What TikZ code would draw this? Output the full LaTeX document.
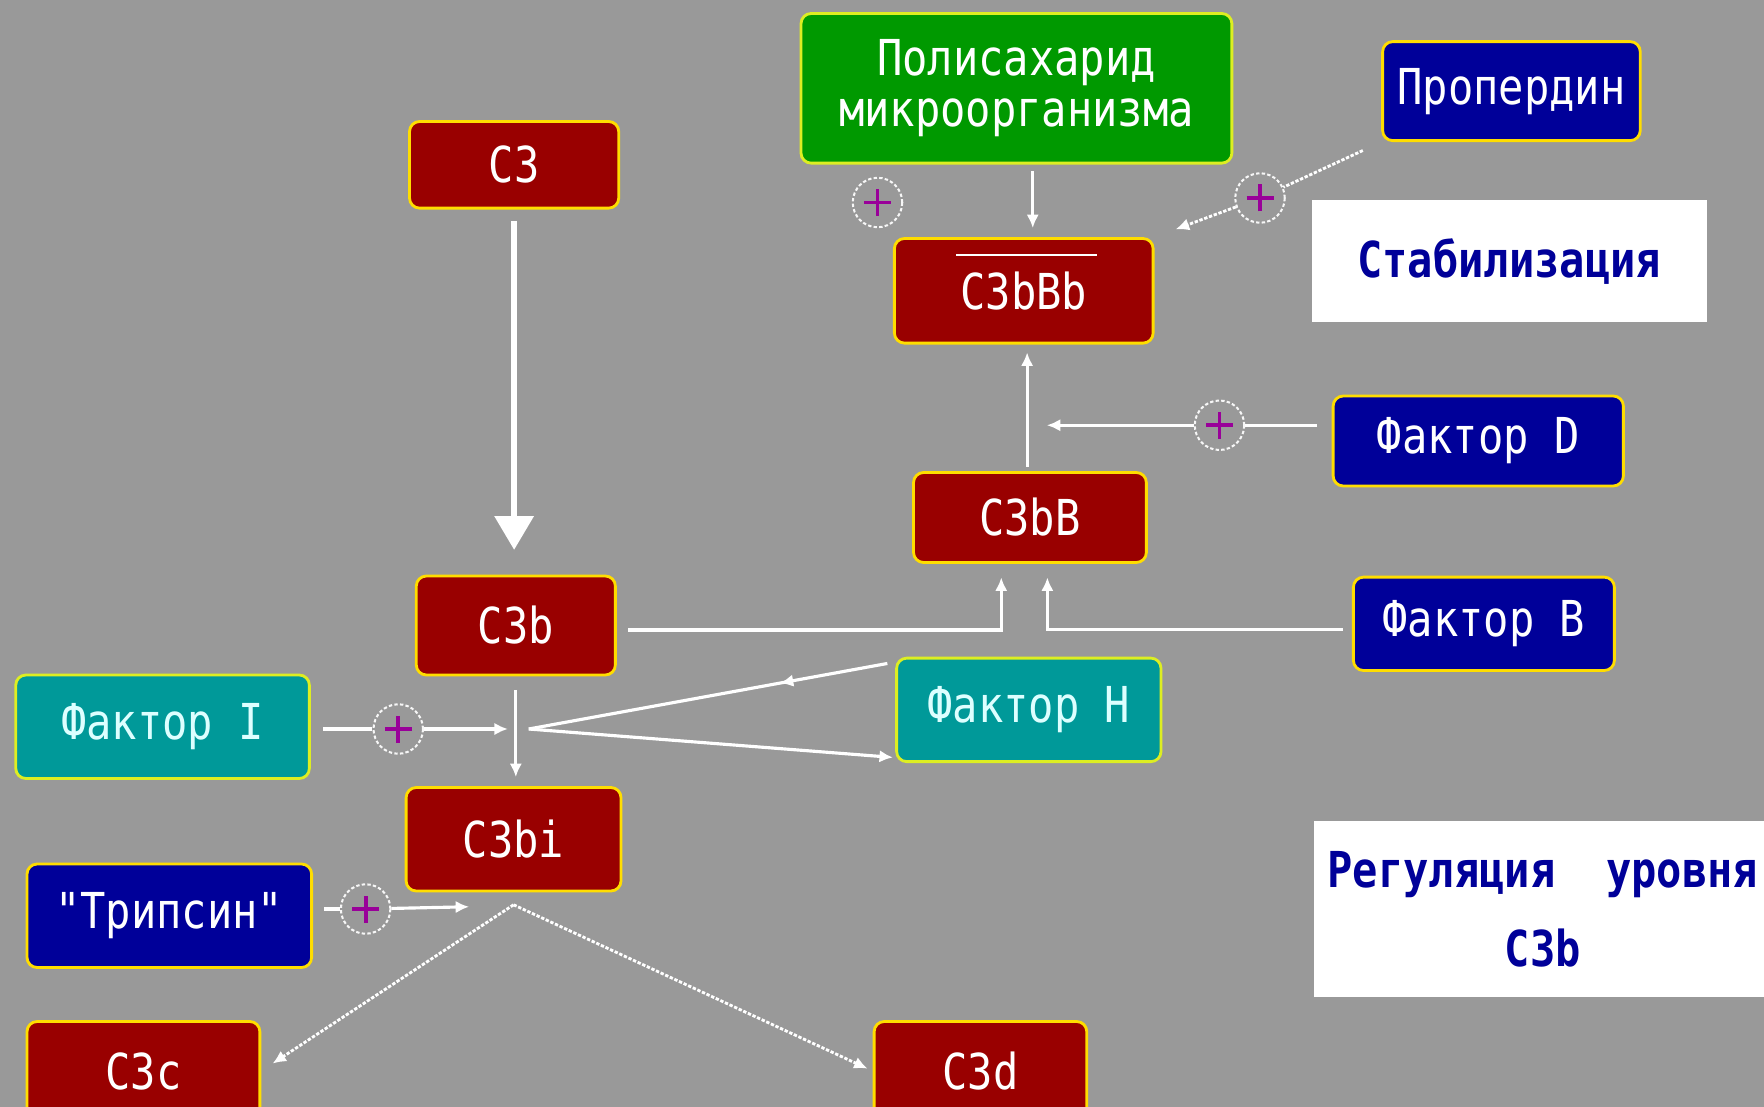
\documentclass[tikz,border=0pt]{standalone}
\usepackage{fontspec}
\newfontfamily\pix[FakeStretch=0.85]{DejaVu Sans Mono}
\usetikzlibrary{arrows.meta,decorations.markings}
\definecolor{bg}{HTML}{999999}
\definecolor{myred}{HTML}{990000}
\definecolor{myblue}{HTML}{000099}
\definecolor{myteal}{HTML}{009999}
\definecolor{mygreen}{HTML}{009900}
\definecolor{yel}{HTML}{FFDD00}
\definecolor{lime}{HTML}{DDEE22}
\definecolor{plusc}{HTML}{990099}
\definecolor{navytext}{HTML}{000099}
\definecolor{lcyan}{HTML}{DDFFFF}
\begin{document}
\begin{tikzpicture}[x=1pt,y=-1pt,
  box/.style={rounded corners=9pt, draw=yel, line width=2.5pt, text=white, inner sep=0pt, align=center,
    font=\pix\fontsize{44}{50}\selectfont},
  redbox/.style={box, fill=myred},
  bluebox/.style={box, fill=myblue},
  tealbox/.style={box, fill=myteal, draw=lime, text=lcyan},
  greenbox/.style={box, fill=mygreen, draw=lime},
  notebox/.style={fill=white, inner sep=0pt, align=center, text=navytext,
    font=\pix\bfseries\fontsize{44}{50}\selectfont},
  pl/.style={circle, draw=white!92!bg, dash pattern=on 3pt off 2pt, line width=1.8pt,
    minimum size=44pt, inner sep=0pt,
    path picture={\draw[plusc, solid, line width=3.5pt]
      ([xshift=-12pt]path picture bounding box.center) -- ([xshift=12pt]path picture bounding box.center)
      ([yshift=-12pt]path picture bounding box.center) -- ([yshift=12pt]path picture bounding box.center);}},
  line/.style={draw=white, line width=2.8pt},
  arr/.style={line, -{Latex[length=12pt,width=11pt]}},
  dline/.style={line, line width=2.5pt, dash pattern=on 3pt off 1.5pt},
  bigarr/.style={draw=white, line width=5pt, -{Triangle[length=30pt,width=34pt]}},
  midarr/.style={postaction={decorate}, decoration={markings,
    mark=at position 0.3 with {\arrow{Latex[length=12pt,width=11pt]}}}}
]
\clip (0,0) rectangle (1568,984);
\fill[bg] (0,0) rectangle (1568,984);

% nodes
\node[greenbox, minimum width=383pt, minimum height=133pt, font=\pix\fontsize{44}{45}\selectfont]
  (poly) at (903.5,78.5) {Полисахарид\\микроорганизма};
\node[bluebox, minimum width=229pt, minimum height=88pt] (prop) at (1343.5,81) {Пропердин};
\node[notebox, minimum width=351pt, minimum height=108pt] (stab) at (1341.5,232) {Стабилизация};
\node[redbox, minimum width=186pt, minimum height=77pt] (c3) at (457,146.5) {C3};
\node[redbox, minimum width=230pt, minimum height=93pt] (c3bbb) at (910,258.5) {C3bBb};
\node[redbox, minimum width=207pt, minimum height=80pt] (c3bb) at (915.5,460) {C3bB};
\node[bluebox, minimum width=258pt, minimum height=80pt] (facD) at (1314,392) {Фактор D};
\node[redbox, minimum width=177pt, minimum height=88pt] (c3b) at (458.5,556) {C3b};
\node[bluebox, minimum width=232pt, minimum height=83pt] (facB) at (1319,554.5) {Фактор B};
\node[tealbox, minimum width=235pt, minimum height=92pt] (facH) at (914.5,631) {Фактор H};
\node[tealbox, minimum width=261pt, minimum height=92pt] (facI) at (144.5,646) {Фактор I};
\node[redbox, minimum width=191pt, minimum height=92pt] (c3bi) at (456.5,746) {C3bi};
\node[bluebox, minimum width=253pt, minimum height=92pt] (tryp) at (150.5,814) {"Трипсин"};
\node[redbox, minimum width=207pt, minimum height=88pt] (c3c) at (127.5,952) {C3c};
\node[redbox, minimum width=189pt, minimum height=88pt] (c3d) at (871.5,952) {C3d};
\node[notebox, minimum width=407pt, minimum height=156pt, font=\pix\bfseries\fontsize{44}{70}\selectfont]
  (reg) at (1371.5,808) {Регуляция\ \ уровня\\C3b};

% plus circles
\node[pl] (plusA) at (780,180) {};
\node[pl] (plusP) at (1120,176) {};
\node[pl] (plusD) at (1084,378) {};
\node[pl] (plusI) at (354,648) {};
\node[pl] (plusT) at (325,808) {};

% overline on C3bBb
\draw[white, line width=2pt] ([xshift=-60pt,yshift=-16pt]c3bbb.north) -- ([xshift=65pt,yshift=-16pt]c3bbb.north);

% connectors
\draw[bigarr, shorten <=10pt, shorten >=22pt] (c3.south) -- (c3.south |- c3b.north);
\draw[arr, shorten <=6pt, shorten >=8pt] ([xshift=14.5pt]poly.south) -- ([xshift=14.5pt]poly.south |- c3bbb.north);
\draw[dline, shorten <=18pt] (prop.south west) -- (plusP);
\draw[dline, -{Latex[length=12pt,width=11pt]}, shorten >=20pt] (plusP) -- (c3bbb.north east);
\draw[arr, shorten <=4pt, shorten >=7pt] (c3bb.north -| 913,0) -- (c3bbb.south -| 913,0);
\draw[line, shorten <=13pt] (plusD -| facD.west) -- (plusD);
\draw[arr, shorten >=15pt] (plusD) -- (plusD -| c3bb.north);
\draw[arr, shorten <=10pt, shorten >=12pt] ([yshift=-4pt]c3b.east) -| ([xshift=-25.5pt]c3bb.south);
\draw[arr, shorten <=8pt, shorten >=12pt] ([yshift=-5pt]facB.west) -| ([xshift=15.5pt]c3bb.south);
\draw[line, shorten <=11pt] (plusI -| facI.east) -- (plusI);
\draw[arr, shorten >=5pt] (plusI) -- (plusI -| c3bi.north);
\draw[arr, shorten <=12pt, shorten >=8pt] (c3b.south) -- (c3b.south |- c3bi.north);
\coordinate (hj) at (470,648);
\draw[line, midarr] ([xshift=-7pt,yshift=-6pt]facH.north west) -- (hj);
\draw[arr] (hj) -- ([xshift=-2pt,yshift=5pt]facH.south west);
\draw[line, shorten <=10pt] (plusT -| tryp.east) -- (plusT);
\coordinate (tt) at (417,806);
\draw[arr] (plusT) -- (tt);
\coordinate (ap) at ([yshift=-11pt]c3bi.south);
\draw[dline, -{Latex[length=12pt,width=11pt]}, shorten >=12pt] (ap) -- (c3c.east);
\draw[dline, -{Latex[length=12pt,width=11pt]}, shorten >=5pt] (ap) -- (c3d.west);
\end{tikzpicture}
\end{document}
